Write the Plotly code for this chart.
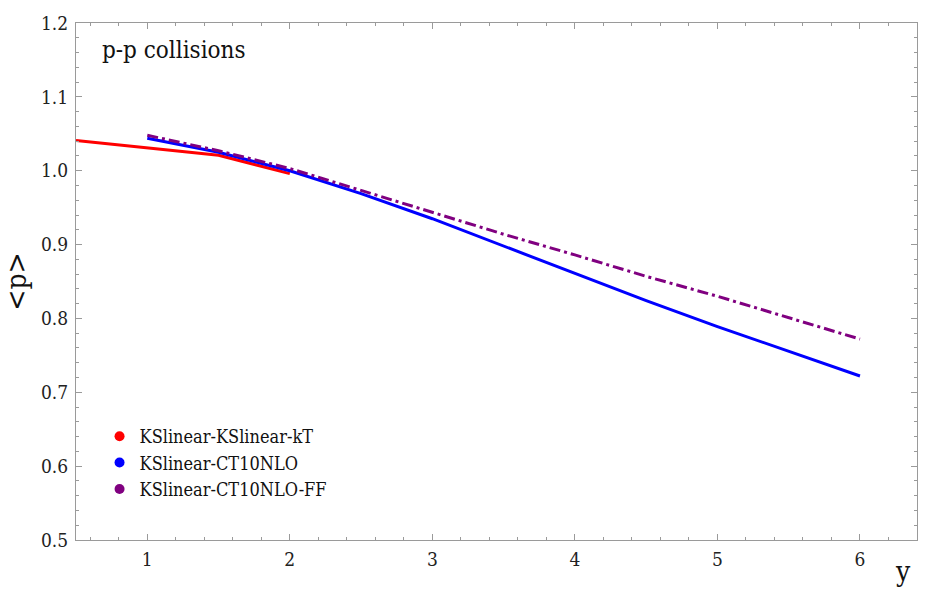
import plotly.graph_objects as go

# ---- data ----
x_red = [0.5, 1.0, 1.5, 2.0]
y_red = [1.041, 1.031, 1.021, 0.996]

x_blue = [1.0, 1.5, 2.0, 2.5, 3.0, 3.5, 4.0, 4.5, 5.0, 5.5, 6.0]
y_blue = [1.044, 1.025, 1.000, 0.969, 0.935, 0.898, 0.861, 0.824, 0.789, 0.755, 0.722]

x_purple = [1.0, 1.5, 2.0, 2.5, 3.0, 3.5, 4.0, 4.5, 5.0, 5.5, 6.0]
y_purple = [1.048, 1.027, 1.003, 0.973, 0.944, 0.914, 0.886, 0.857, 0.830, 0.801, 0.772]

names = ["KSlinear-KSlinear-kT", "KSlinear-CT10NLO", "KSlinear-CT10NLO-FF"]
colors = ["#FF0000", "#0000FF", "#800080"]

x_ticks = [1, 2, 3, 4, 5, 6]
y_ticks = [0.5, 0.6, 0.7, 0.8, 0.9, 1.0, 1.1, 1.2]
y_tick_labels = ["0.5", "0.6", "0.7", "0.8", "0.9", "1.0", "1.1", "1.2"]

FONT = "DejaVu Serif Condensed, DejaVu Serif"

fig = go.Figure()
series = [(x_red, y_red, "solid"), (x_blue, y_blue, "solid"),
          (x_purple, y_purple, "11px,4px,3px,4px")]
for (xs, ys, dash), name, col in zip(series, names, colors):
    fig.add_trace(go.Scatter(x=xs, y=ys, mode="lines", name=name,
                             line=dict(color=col, width=3, dash=dash),
                             showlegend=False))
# legend entries shown as dots
for name, col in zip(names, colors):
    fig.add_trace(go.Scatter(x=[None], y=[None], mode="markers", name=name,
                             marker=dict(color=col, size=10), showlegend=True))

axis_common = dict(showline=True, linecolor="#9a9a9a", linewidth=1, mirror="ticks",
                   ticks="inside", ticklen=6, tickcolor="#9a9a9a", tickwidth=1,
                   showgrid=False, zeroline=False,
                   tickfont=dict(family=FONT, size=19, color="#222222"))

fig.update_layout(
    width=938, height=600,
    margin=dict(l=76, r=21, t=20, b=60),
    plot_bgcolor="white", paper_bgcolor="white",
    font=dict(family=FONT, color="#111111"),
    xaxis=dict(range=[0.5, 6.4], tickvals=x_ticks, ticklabelstandoff=2,
               minor=dict(dtick=0.2, tick0=0, ticks="inside", ticklen=3,
                          tickcolor="#9a9a9a", showgrid=False),
               **axis_common),
    yaxis=dict(range=[0.5, 1.2], tickvals=y_ticks, ticktext=y_tick_labels,
               ticklabelstandoff=3,
               title=dict(text="&lt;p&gt;", font=dict(family=FONT, size=28), standoff=8),
               minor=dict(dtick=0.02, tick0=0, ticks="inside", ticklen=3,
                          tickcolor="#9a9a9a", showgrid=False),
               **axis_common),
    legend=dict(x=0.028, y=0.236, xanchor="left", yanchor="top",
                font=dict(family=FONT, size=18, color="#111111"),
                bgcolor="rgba(0,0,0,0)", borderwidth=0, tracegroupgap=0),
    annotations=[
        dict(text="p-p collisions", xref="paper", yref="paper", x=0.028, y=0.948,
             xanchor="left", yanchor="middle", showarrow=False,
             font=dict(family=FONT, size=24, color="#111111")),
        dict(text="y", xref="paper", yref="paper", x=0.983, y=-0.0615,
             xanchor="center", yanchor="middle", showarrow=False,
             font=dict(family=FONT, size=28, color="#111111")),
    ],
)

fig.write_html("out.html")
